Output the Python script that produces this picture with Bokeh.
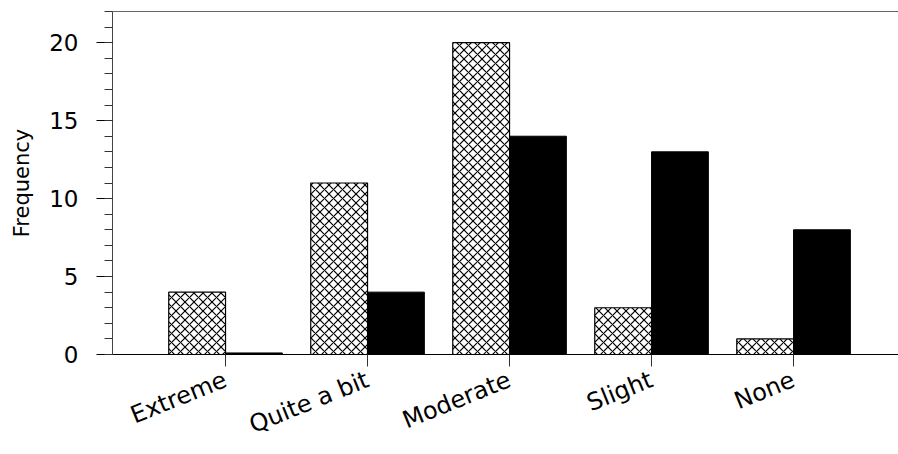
import math
from bokeh.plotting import figure
from bokeh.models import FixedTicker, LinearAxis, Range1d, ColumnDataSource
from bokeh.transform import dodge
from bokeh.embed import file_html
from bokeh.resources import INLINE

categories = ["Extreme", "Quite a bit", "Moderate", "Slight", "None"]
positions = [1, 2, 3, 4, 5]
series_hatched = [4, 11, 20, 3, 1]
series_black = [0.1, 4, 14, 13, 8]
y_major_ticks = [0, 5, 10, 15, 20]
y_minor_ticks = list(range(0, 23))

FONT = "DejaVu Sans"

src = ColumnDataSource(dict(x=positions, a=series_hatched, b=series_black))

p = figure(width=898, height=454, output_backend="svg", toolbar_location=None,
           x_range=Range1d(0.204, 5.739), y_range=Range1d(0, 22),
           min_border_left=112, min_border_top=11, min_border_bottom=100,
           min_border_right=0)
p.grid.visible = False
p.outline_line_color = None

p.vbar(x=dodge('x', -0.2, range=p.x_range), width=0.4, top='a', bottom=0,
       source=src, fill_color='white', line_color='black', line_width=1.2,
       hatch_pattern='diagonal_cross', hatch_scale=9, hatch_color='black',
       hatch_weight=1.2)
p.vbar(x=dodge('x', 0.2, range=p.x_range), width=0.4, top='b', bottom=0,
       source=src, fill_color='black', line_color='black', line_width=1)

xa = p.xaxis[0]
xa.ticker = FixedTicker(ticks=positions)
xa.major_label_overrides = {pos: cat for pos, cat in zip(positions, categories)}
xa.major_label_orientation = math.radians(22)
xa.major_tick_out = 12
xa.major_tick_in = 0
xa.minor_tick_line_color = None
xa.axis_line_color = "black"
xa.major_tick_line_color = "#333333"
xa.major_label_text_font = FONT
xa.major_label_text_font_size = "24px"
xa.major_label_text_color = "black"
xa.major_label_standoff = 12

ya = p.yaxis[0]
ya.ticker = FixedTicker(ticks=y_major_ticks, minor_ticks=y_minor_ticks)
ya.major_tick_out = 16
ya.major_tick_in = 0
ya.minor_tick_out = 8
ya.minor_tick_in = 0
ya.axis_line_color = "#444444"
ya.major_tick_line_color = "black"
ya.minor_tick_line_color = "#333333"
ya.major_label_text_font = FONT
ya.major_label_text_font_size = "23px"
ya.major_label_text_color = "black"
ya.major_label_standoff = 18
ya.axis_label = "Frequency"
ya.axis_label_text_font = FONT
ya.axis_label_text_font_size = "21px"
ya.axis_label_text_font_style = "normal"
ya.axis_label_text_color = "black"
ya.axis_label_standoff = 12

top = LinearAxis(ticker=FixedTicker(ticks=[]), major_tick_line_color=None,
                 minor_tick_line_color=None, axis_line_color="#666666",
                 major_label_text_font_size="0px")
p.add_layout(top, "above")

open("out.html", "w").write(file_html(p, INLINE))
